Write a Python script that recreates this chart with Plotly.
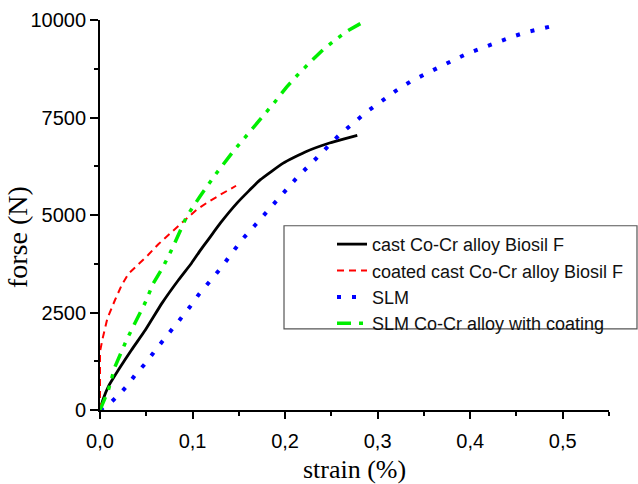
import plotly.graph_objects as go

# Force-strain curves
cast_strain = [0.0, 0.003, 0.009, 0.02, 0.034, 0.049, 0.067, 0.085, 0.099, 0.108, 0.117,
               0.13, 0.148, 0.173, 0.198, 0.223, 0.248, 0.265, 0.278]
cast_force = [0, 250, 600, 1030, 1540, 2050, 2740, 3340, 3770, 4080, 4370,
              4790, 5305, 5900, 6330, 6630, 6846, 6960, 7040]

coated_strain = [0.0, 0.0, 0.003, 0.008, 0.0162, 0.0234, 0.0306, 0.0414, 0.0522, 0.063,
                 0.0756, 0.09, 0.1044, 0.115, 0.13, 0.147]
coated_force = [0, 1500, 1850, 2350, 2820, 3200, 3490, 3730, 3980, 4250,
                4535, 4834, 5134, 5305, 5520, 5750]

slm_strain = [0.0, 0.012, 0.022, 0.03, 0.038, 0.05, 0.061, 0.074, 0.086, 0.097, 0.107,
              0.119, 0.131, 0.143, 0.155, 0.168, 0.182, 0.198, 0.214, 0.229, 0.244,
              0.258, 0.274, 0.289, 0.305, 0.32, 0.336, 0.352, 0.367, 0.383, 0.399,
              0.414, 0.43, 0.446, 0.461, 0.476, 0.492]
slm_force = [0, 200, 430, 640, 900, 1220, 1570, 1940, 2310, 2640, 2970,
             3310, 3650, 4040, 4410, 4750, 5120, 5560, 5990, 6340, 6690,
             7040, 7360, 7660, 7930, 8190, 8430, 8620, 8810, 8985, 9160,
             9300, 9440, 9575, 9690, 9780, 9860]

slm_coat_strain = [0.0, 0.009, 0.0162, 0.0288, 0.0378, 0.0486, 0.0576, 0.0684, 0.0774,
                   0.0936, 0.108, 0.126, 0.144, 0.158, 0.176, 0.189, 0.2016, 0.215,
                   0.23, 0.241, 0.255, 0.266, 0.283]
slm_coat_force = [0, 510, 1110, 1800, 2230, 2740, 3250, 3680, 4107,
                  4960, 5476, 6076, 6631, 7016, 7540, 7900, 8280, 8630,
                  8985, 9240, 9500, 9700, 9930]

series_names = ["cast Co-Cr alloy Biosil F", "coated cast Co-Cr alloy Biosil F",
                "SLM", "SLM Co-Cr alloy with coating"]

x_tick_vals = [0.0, 0.1, 0.2, 0.3, 0.4, 0.5]
x_tick_text = ["0,0", "0,1", "0,2", "0,3", "0,4", "0,5"]
y_tick_vals = [0, 2500, 5000, 7500, 10000]
y_tick_text = ["0", "2500", "5000", "7500", "10000"]

fig = go.Figure()
fig.add_trace(go.Scatter(x=cast_strain, y=cast_force, mode="lines", name=series_names[0],
                         line=dict(color="black", width=2.8, shape="spline", smoothing=0.4)))
fig.add_trace(go.Scatter(x=coated_strain, y=coated_force, mode="lines", name=series_names[1],
                         line=dict(color="#ff0000", width=2, dash="7px,5px")))
fig.add_trace(go.Scatter(x=slm_strain, y=slm_force, mode="lines", name=series_names[2],
                         line=dict(color="#0000ff", width=4, dash="4px,11px")))
fig.add_trace(go.Scatter(x=slm_coat_strain, y=slm_coat_force, mode="lines", name=series_names[3],
                         line=dict(color="#00ee00", width=3.5,
                                   dash="14px,8px,4px,8px,4px,8px")))

axis_font = dict(family="Liberation Sans, Arial", size=20, color="black")
title_font = dict(family="Liberation Serif, Times New Roman", size=26, color="black")

fig.update_xaxes(range=[0, 0.55], tickvals=x_tick_vals, ticktext=x_tick_text,
                 showline=True, linecolor="black", linewidth=1.8, showgrid=False,
                 zeroline=False, ticks="outside", ticklen=7, tickwidth=1.5, tickcolor="black",
                 minor=dict(dtick=0.05, ticks="outside", ticklen=4, tickwidth=1.5,
                            tickcolor="black", showgrid=False),
                 ticklabelstandoff=5, automargin=False,
                 tickfont=axis_font, title=dict(text="strain (%)", font=title_font, standoff=16))
fig.update_yaxes(range=[0, 10000], tickvals=y_tick_vals, ticktext=y_tick_text,
                 showline=True, linecolor="black", linewidth=1.8, showgrid=False,
                 zeroline=False, ticks="outside", ticklen=8, tickwidth=1.5, tickcolor="black",
                 minor=dict(dtick=1250, ticks="outside", ticklen=4, tickwidth=1.5,
                            tickcolor="black", showgrid=False),
                 automargin=False, tickfont=axis_font)

# Y-axis title, placed a little below the plot centre
fig.add_annotation(text="forse (N)", xref="paper", yref="paper", x=-0.161, y=0.4436,
                   xanchor="center", yanchor="middle", textangle=-90, showarrow=False,
                   font=dict(family="Liberation Serif, Times New Roman", size=28, color="black"))

# Legend frame
fig.add_shape(type="rect", xref="paper", yref="paper", x0=0.3615, x1=1.055, y0=0.208, y1=0.4724,
              line=dict(color="#555555", width=1.2), fillcolor="rgba(0,0,0,0)", layer="above")

fig.update_layout(
    width=638, height=484,
    margin=dict(l=100, r=29, t=20, b=74, autoexpand=False),
    paper_bgcolor="white", plot_bgcolor="white",
    showlegend=True,
    legend=dict(x=0.4558, y=0.472, xanchor="left", yanchor="top",
                bgcolor="rgba(0,0,0,0)", borderwidth=0,
                font=dict(family="Liberation Sans, Arial", size=18, color="#111111"),
                tracegroupgap=0),
)

fig.write_html("out.html")
